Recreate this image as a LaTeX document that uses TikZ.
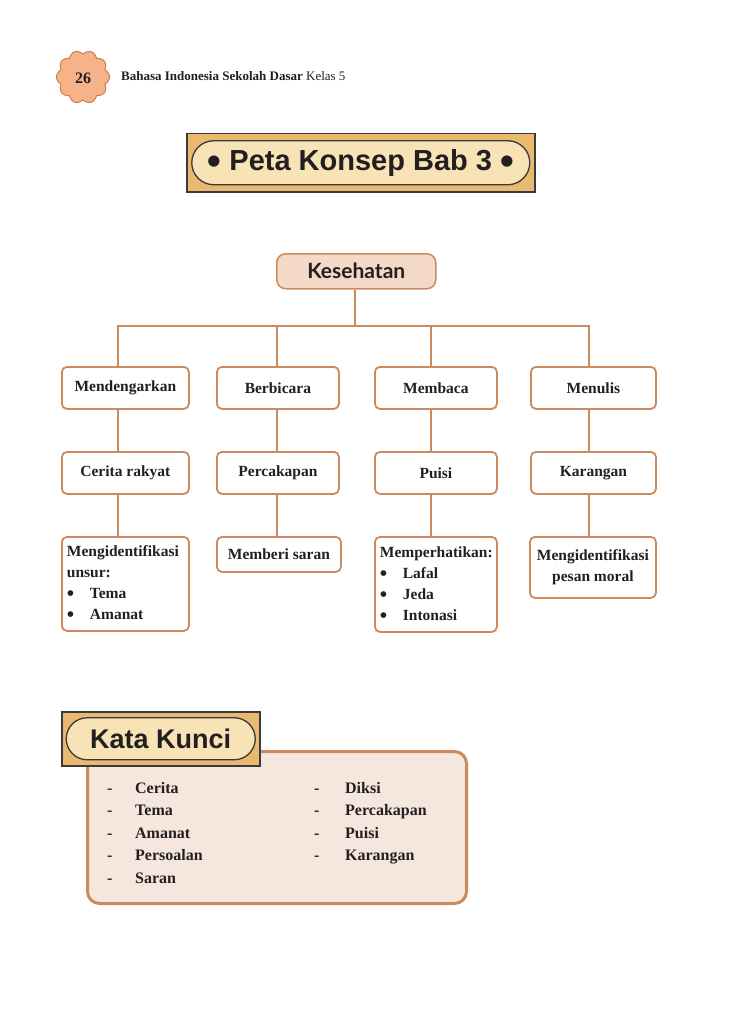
\documentclass[tikz,border=0pt]{standalone}
\usepackage{fontspec}
\setmainfont{Liberation Serif}
\setsansfont{Liberation Sans}
\newfontfamily\kesfont{Lato}
\definecolor{brd}{HTML}{C98B5E}
\definecolor{kesfill}{HTML}{F3D9C6}
\definecolor{tan}{HTML}{E8B96F}
\definecolor{cream}{HTML}{F7E3B6}
\definecolor{darkline}{HTML}{3A3A3A}
\definecolor{kkfill}{HTML}{F5E7DD}
\definecolor{badgefill}{HTML}{F6B288}
\definecolor{badgeline}{HTML}{C9804F}
\definecolor{txt}{HTML}{231F20}
\tikzset{
  conn/.style={draw=brd, line width=2.2pt},
  cbox/.style={draw=brd, line width=1.8pt, rounded corners=5pt, fill=white, anchor=north west,
     text=txt, font=\bfseries\fontsize{15.5}{21}\selectfont, inner sep=0pt},
  lbox/.style={cbox, align=left, inner xsep=5pt},
  listtxt/.style={anchor=north west, inner sep=0pt, align=left, text=txt,
     font=\bfseries\fontsize{16}{22.5}\selectfont},
}
\newcommand{\bul}{\makebox[23pt][l]{\raisebox{-2.2pt}{\scalebox{1.35}{\textbullet}}}}
\newcommand{\dsh}{\makebox[28pt][l]{-}}
\newcommand{\bigdot}{\raisebox{-4pt}{\scalebox{1.35}{\textbullet}}}
\begin{document}
\begin{tikzpicture}[x=1pt,y=-1pt]
\useasboundingbox (0,0) rectangle (728,1035);

% header badge
\draw[fill=badgefill, draw=badgeline, line width=1pt, shift={(83,77)}]
  plot[domain=0:360, samples=240, smooth cycle] (\x:{23+3.5*abs(cos(5*\x))});
\node[font=\bfseries\fontsize{16}{16}\selectfont, text=txt] (pg) at (83,78) {26};
\node[anchor=west, inner sep=0pt, text=txt, font=\fontsize{13}{13}\selectfont] (hdr) at (121,76)
  {\textbf{Bahasa Indonesia Sekolah Dasar} Kelas 5};

% title
\node[draw=darkline, line width=1.5pt, fill=tan, minimum width=348, minimum height=58, anchor=north west, inner sep=0pt] (tbox) at (186,133) {};
\node[draw=darkline, line width=1.3pt, fill=cream, minimum width=338, minimum height=44, rounded corners=22pt, inner sep=0pt,
  font=\sffamily\bfseries\fontsize{29}{29}\selectfont, text=txt] (title) at (tbox.center)
  {\bigdot\ Peta Konsep Bab 3 \bigdot};

% root
\node[draw=brd, line width=1.5pt, fill=kesfill, rounded corners=9pt, minimum width=159, minimum height=35,
  anchor=north west, inner sep=0pt, font=\kesfont\bfseries\fontsize{21}{21}\selectfont, text=txt] (kes) at (276,253) {Kesehatan};

% level 1
\node[cbox, minimum width=127, minimum height=42] (a1) at (61,366) {Mendengarkan};
\node[cbox, minimum width=122, minimum height=42] (a2) at (216,366) {Berbicara};
\node[cbox, minimum width=122, minimum height=42] (a3) at (374,366) {Membaca};
\node[cbox, minimum width=125, minimum height=42] (a4) at (530,366) {Menulis};
% level 2
\node[cbox, minimum width=127, minimum height=42] (b1) at (61,451) {Cerita rakyat};
\node[cbox, minimum width=122, minimum height=42] (b2) at (216,451) {Percakapan};
\node[cbox, minimum width=122, minimum height=42] (b3) at (374,451) {Puisi};
\node[cbox, minimum width=125, minimum height=42] (b4) at (530,451) {Karangan};
% level 3
\node[lbox, text width=117, minimum height=94] (c1) at (61,536)
  {Mengidentifikasi\\unsur:\\\bul Tema\\\bul Amanat};
\node[cbox, minimum width=124, minimum height=35] (c2) at (216,536) {Memberi saran};
\node[lbox, text width=112, minimum height=95] (c3) at (374,536)
  {Memperhatikan:\\\bul Lafal\\\bul Jeda\\\bul Intonasi};
\node[cbox, align=center, minimum width=126, minimum height=61] (c4) at (529,536)
  {Mengidentifikasi\\pesan moral};

% connectors
\coordinate (bar) at (355,326);
\coordinate (k1) at (118,326);
\coordinate (k2) at (277,326);
\coordinate (k3) at (431,326);
\coordinate (k4) at (589,326);
\draw[conn] (kes.south -| bar) -- (bar);
\draw[conn] ([xshift=-1.1pt]k1) -- ([xshift=1.1pt]k4);
\draw[conn] (k1) -- (k1 |- a1.north);
\draw[conn] (k2) -- (k2 |- a2.north);
\draw[conn] (k3) -- (k3 |- a3.north);
\draw[conn] (k4) -- (k4 |- a4.north);
\draw[conn] (k1 |- a1.south) -- (k1 |- b1.north);
\draw[conn] (k2 |- a2.south) -- (k2 |- b2.north);
\draw[conn] (k3 |- a3.south) -- (k3 |- b3.north);
\draw[conn] (k4 |- a4.south) -- (k4 |- b4.north);
\draw[conn] (k1 |- b1.south) -- (k1 |- c1.north);
\draw[conn] (k2 |- b2.south) -- (k2 |- c2.north);
\draw[conn] (k3 |- b3.south) -- (k3 |- c3.north);
\draw[conn] (k4 |- b4.south) -- (k4 |- c4.north);

% Kata Kunci
\node[draw=brd, line width=3pt, fill=kkfill, rounded corners=12pt, minimum width=379, minimum height=152,
  anchor=north west, inner sep=0pt] (kk) at (86,750) {};
\node[draw=darkline, line width=1.5pt, fill=tan, minimum width=198, minimum height=54, anchor=north west, inner sep=0pt] (kkbox) at (61,711) {};
\node[draw=darkline, line width=1.3pt, fill=cream, minimum width=189, minimum height=42, rounded corners=21pt, inner sep=0pt,
  font=\sffamily\bfseries\fontsize{27}{27}\selectfont, text=txt] (kktitle) at (kkbox.center) {Kata Kunci};
\node[listtxt] (l1) at (107,782)
  {\dsh Cerita\\\dsh Tema\\\dsh Amanat\\\dsh Persoalan\\\dsh Saran};
\node[listtxt] (l2) at (314,782)
  {\makebox[31pt][l]{-}Diksi\\\makebox[31pt][l]{-}Percakapan\\\makebox[31pt][l]{-}Puisi\\\makebox[31pt][l]{-}Karangan};
\end{tikzpicture}
\end{document}
